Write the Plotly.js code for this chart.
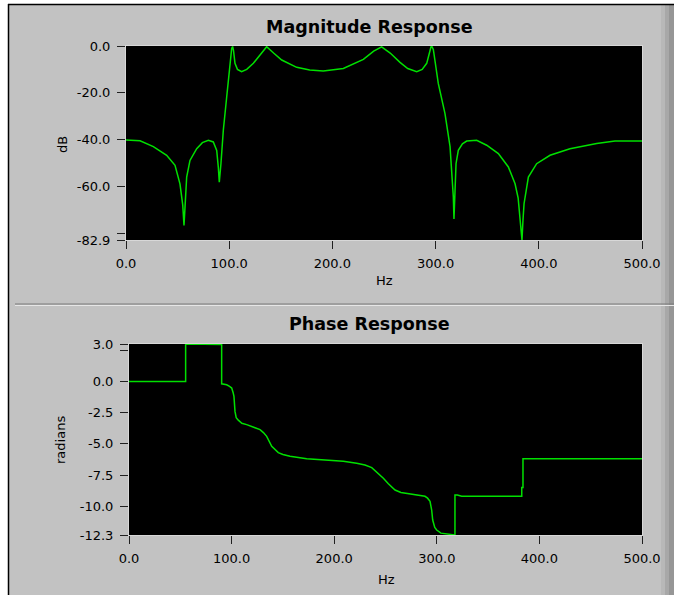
<!DOCTYPE html>
<html>
<head>
<meta charset="utf-8">
<script src="https://cdn.plot.ly/plotly-3.0.1.min.js"></script>
<style>
html,body{margin:0;padding:0;background:#fff;}
#chart{width:674px;height:595px;}
</style>
</head>
<body>
<div id="chart"></div>
<script>
// ---- Data ----
const magFreq = [0,13.6,26.5,39.4,47.5,52.3,55,56.2,57.3,58.8,62,68.5,74,79.8,84.6,87.9,89.5,90.4,92,94.3,97.6,100.1,102.4,103.3,104.2,105.6,108,112,117,123.4,130,136.3,143,150.9,165.4,178,191.2,210.6,230,240,247.7,256,265.5,273,281.7,287,291.4,294,295.5,296.5,297.8,302.6,309.1,314,316,317.2,317.8,318.8,319.8,322,326,330.1,339.8,349.5,360.8,370.5,377,380,381.8,383.7,384.6,385.7,389.9,397.9,410.9,430.2,456.1,473.8,500];
const magDb = [-40.2,-40.5,-43,-46.7,-51,-58.9,-68,-76.7,-68,-56,-48.9,-43.9,-41.3,-40.3,-41,-44.6,-52,-58.2,-50.3,-36,-21.7,-10.3,-1,-0.2,-2,-7.4,-10,-11,-10,-7.4,-3.5,-0.3,-3,-6,-9.1,-10.3,-10.7,-9.6,-5.7,-2.2,-0.4,-3,-7,-9.6,-11,-10,-7.4,-3,-0.4,-0.3,-1.5,-16,-28.9,-43,-55,-64.6,-73.9,-58,-50.3,-44.6,-41.8,-40.6,-40.3,-42.4,-46,-51.7,-58.9,-65,-74.6,-82.9,-75,-67.4,-56,-50.3,-46.7,-43.9,-41.7,-40.6,-40.6];

const phaseFreq = [0,55.2,55.2,82.2,88,90.3,90.3,95.2,98,100.1,101.5,102.3,103.3,104.5,106.5,110,114.7,120,127.7,131,134.2,139.1,145.5,150,156.9,173.2,189.4,208.9,221.9,230,236.6,244.7,247.9,252.8,259.3,265,273.9,288.5,291,293.4,295,296,298,299.9,304,308,317.7,317.7,320,324.3,382.8,382.8,384,384,500];
const phaseRad = [0,0,3.0,3.0,2.95,2.95,-0.19,-0.27,-0.4,-0.53,-0.9,-1.2,-2.4,-2.9,-3.1,-3.35,-3.46,-3.6,-3.86,-4.1,-4.4,-5.2,-5.7,-5.85,-6.0,-6.2,-6.27,-6.4,-6.55,-6.7,-6.9,-7.5,-7.75,-8.2,-8.7,-8.9,-9.0,-9.2,-9.35,-9.6,-10.3,-11.1,-11.7,-11.9,-12.15,-12.2,-12.3,-9.1,-9.1,-9.2,-9.2,-8.5,-8.5,-6.2,-6.2];

const xTickVals = [0,100,200,300,400,500];
const xTickText = ["0.0","100.0","200.0","300.0","400.0","500.0"];
const magTickVals = [0,-20,-40,-60,-80,-82.9];
const magTickText = ["0.0","-20.0","-40.0","-60.0","","-82.9"];
const phTickVals = [3.0,2.5,0,-2.5,-5,-7.5,-10,-12.3];
const phTickText = ["3.0","","0.0","-2.5","-5.0","-7.5","-10.0","-12.3"];

const titles = {mag:"Magnitude Response", phase:"Phase Response", x:"Hz", magY:"dB", phY:"radians"};

// ---- Layout helpers (figure pixels -> paper) ----
const W = 674, H = 595;
const px = v => v / W;
const py = v => 1 - v / H;

const FONT = "DejaVu Sans, sans-serif";
const green = "#00e000";

const traces = [
  {x: magFreq, y: magDb, xaxis:"x", yaxis:"y", mode:"lines", line:{color:green, width:1.5}, hoverinfo:"skip"},
  {x: phaseFreq, y: phaseRad, xaxis:"x2", yaxis:"y2", mode:"lines", line:{color:green, width:1.5}, hoverinfo:"skip"}
];

const axisCommon = {
  showgrid:false, zeroline:false, showline:true, mirror:true, linecolor:"#d8d8d8", linewidth:1,
  ticks:"outside", ticklen:8, tickcolor:"#202020", tickwidth:1,
  tickfont:{family:FONT, size:13, color:"#000"}, tickmode:"array", fixedrange:true, automargin:false
};
const xAx = Object.assign({}, axisCommon, {ticklabelstandoff:3});
const yAx = Object.assign({}, axisCommon, {ticklabelstandoff:4});

const layout = {
  width: W, height: H,
  margin:{l:0,r:0,t:0,b:0},
  paper_bgcolor:"#c2c2c2",
  plot_bgcolor:"#000000",
  showlegend:false,
  xaxis: Object.assign({}, xAx, {domain:[px(126), px(642)], anchor:"y", range:[0,500], tickvals:xTickVals, ticktext:xTickText}),
  yaxis: Object.assign({}, yAx, {domain:[py(240), py(46)], anchor:"x", range:[-82.9,0], tickvals:magTickVals, ticktext:magTickText}),
  xaxis2: Object.assign({}, xAx, {domain:[px(129), px(642)], anchor:"y2", range:[0,500], tickvals:xTickVals, ticktext:xTickText}),
  yaxis2: Object.assign({}, yAx, {domain:[py(535), py(344)], anchor:"x2", range:[-12.3,3.0], tickvals:phTickVals, ticktext:phTickText}),
  annotations: [
    {text:titles.mag, xref:"paper", yref:"paper", x:px(369), y:py(27), showarrow:false, xanchor:"center", yanchor:"middle", font:{family:FONT, size:17.5, color:"#000", weight:"bold"}},
    {text:titles.phase, xref:"paper", yref:"paper", x:px(369), y:py(324), showarrow:false, xanchor:"center", yanchor:"middle", font:{family:FONT, size:17.5, color:"#000", weight:"bold"}},
    {text:titles.x, xref:"paper", yref:"paper", x:px(384), y:py(280), showarrow:false, xanchor:"center", yanchor:"middle", font:{family:FONT, size:13, color:"#000"}},
    {text:titles.x, xref:"paper", yref:"paper", x:px(386), y:py(579), showarrow:false, xanchor:"center", yanchor:"middle", font:{family:FONT, size:13, color:"#000"}},
    {text:titles.magY, xref:"paper", yref:"paper", x:px(62), y:py(145), showarrow:false, textangle:-90, xanchor:"center", yanchor:"middle", font:{family:FONT, size:13, color:"#000"}},
    {text:titles.phY, xref:"paper", yref:"paper", x:px(60), y:py(440), showarrow:false, textangle:-90, xanchor:"center", yanchor:"middle", font:{family:FONT, size:13, color:"#000"}}
  ],
  shapes: [
    {type:"rect", xref:"paper", yref:"paper", x0:0, x1:px(8), y0:0, y1:1, fillcolor:"#ffffff", line:{width:0}},
    {type:"rect", xref:"paper", yref:"paper", x0:0, x1:1, y0:py(4), y1:1, fillcolor:"#ffffff", line:{width:0}},
    {type:"rect", xref:"paper", yref:"paper", x0:px(661), x1:px(665), y0:0, y1:py(5), fillcolor:"#b8b8b8", line:{width:0}},
    {type:"rect", xref:"paper", yref:"paper", x0:px(665), x1:px(669), y0:0, y1:py(5), fillcolor:"#a8a8a8", line:{width:0}},
    {type:"rect", xref:"paper", yref:"paper", x0:px(669), x1:1, y0:0, y1:py(5), fillcolor:"#969696", line:{width:0}},
    {type:"line", xref:"paper", yref:"paper", x0:px(8.5), x1:px(8.5), y0:0, y1:py(4), line:{color:"#000", width:1.5}},
    {type:"line", xref:"paper", yref:"paper", x0:px(8), x1:1, y0:py(4.5), y1:py(4.5), line:{color:"#000", width:1.5}},
    {type:"line", xref:"paper", yref:"paper", x0:px(15), x1:1, y0:py(304), y1:py(304), line:{color:"#7a7a7a", width:1}},
    {type:"line", xref:"paper", yref:"paper", x0:px(15), x1:1, y0:py(305.5), y1:py(305.5), line:{color:"#e6e6e6", width:1}}
  ]
};

Plotly.newPlot("chart", traces, layout, {displayModeBar:false, staticPlot:true});
</script>
</body>
</html>
